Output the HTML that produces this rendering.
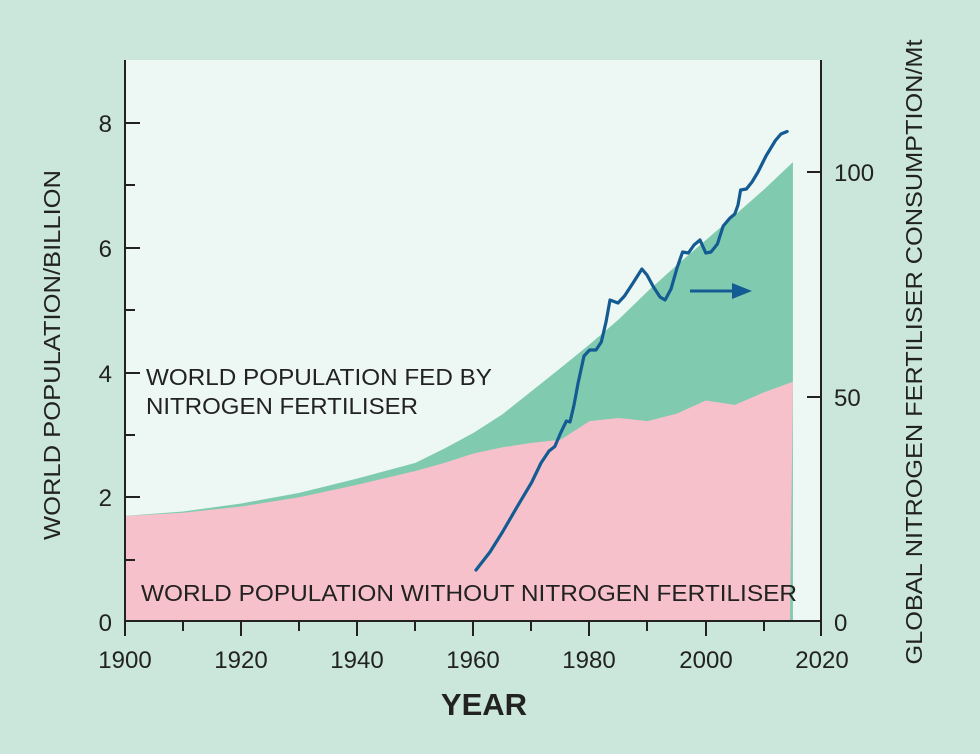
<!DOCTYPE html>
<html><head><meta charset="utf-8"><style>
body{margin:0;background:#cbe7dc;}
svg{display:block;font-family:"Liberation Sans",Arial,sans-serif;}
</style></head><body>
<svg width="980" height="754" viewBox="0 0 980 754" xmlns="http://www.w3.org/2000/svg">
<rect width="980" height="754" fill="#cbe7dc"/>
<rect x="125" y="60" width="696" height="562" fill="#edf7f3"/>
<g transform="translate(125,622) scale(5.808,-62.4)">
<polygon fill="#80cbb0" points="0,0 0,1.7 10,1.77 20,1.9 30,2.07 40,2.3 50,2.55 55,2.78 60,3.03 65,3.33 70,3.7 75,4.07 80,4.45 85,4.85 90,5.3 95,5.72 100,6.12 105,6.52 110,6.93 115,7.37 115,0"/>
<polygon fill="#f6c1ca" points="0,0 0,1.7 10,1.75 20,1.85 30,2.0 40,2.2 50,2.42 55,2.55 60,2.7 65,2.8 70,2.87 75,2.92 80,3.22 85,3.27 90,3.22 95,3.34 100,3.55 105,3.48 110,3.68 115,3.85 114.5,0"/>
</g>
<polyline fill="none" stroke="#135b92" stroke-width="3.2" stroke-linejoin="round" stroke-linecap="round" points="476,570 490,552 502.5,532 517,507 531.6,482.5 541,463 549,451 554.8,446.5 560.6,433 566.4,421 570,422 574,405 578,383.5 584,356 589.6,350 596,350 601.3,342 606,322 610,300 618,303 624.5,296 633,283 641.9,269 647,275 653.5,287 660,297 665.1,300 671,289 677,268 682.6,252 688.4,253 694,245 700,240 705.8,253 711,252 717.4,244 723.2,226 730,218 734.8,214 738,205 740.6,190 746.4,189 752,182 758,172 766,156 775.4,140.5 781,134 787.1,131.5"/>
<line x1="690" y1="291" x2="735" y2="291" stroke="#135b92" stroke-width="3"/>
<polygon points="752,291 732,283 732,299" fill="#135b92"/>
<g stroke="#222" stroke-width="2" fill="none">
<line x1="125" y1="60" x2="125" y2="622"/>
<line x1="821" y1="60" x2="821" y2="636"/>
<line x1="124" y1="621" x2="821" y2="621"/>
<line x1="125" y1="123" x2="140" y2="123"/><line x1="125" y1="185" x2="135" y2="185"/>
<line x1="125" y1="248" x2="140" y2="248"/><line x1="125" y1="310" x2="135" y2="310"/>
<line x1="125" y1="373" x2="140" y2="373"/><line x1="125" y1="435" x2="135" y2="435"/>
<line x1="125" y1="497" x2="140" y2="497"/><line x1="125" y1="560" x2="135" y2="560"/>
<line x1="807" y1="172" x2="821" y2="172"/><line x1="807" y1="397" x2="821" y2="397"/>
<line x1="125" y1="621" x2="125" y2="636"/><line x1="183" y1="621" x2="183" y2="631"/>
<line x1="241" y1="621" x2="241" y2="636"/><line x1="299" y1="621" x2="299" y2="631"/>
<line x1="357" y1="621" x2="357" y2="636"/><line x1="415" y1="621" x2="415" y2="631"/>
<line x1="473" y1="621" x2="473" y2="636"/><line x1="531" y1="621" x2="531" y2="631"/>
<line x1="589" y1="621" x2="589" y2="636"/><line x1="647" y1="621" x2="647" y2="631"/>
<line x1="706" y1="621" x2="706" y2="636"/><line x1="764" y1="621" x2="764" y2="631"/>
</g>
<g fill="#222" font-size="24">
<text x="112" y="132" text-anchor="end">8</text>
<text x="112" y="257" text-anchor="end">6</text>
<text x="112" y="382" text-anchor="end">4</text>
<text x="112" y="506" text-anchor="end">2</text>
<text x="112" y="631" text-anchor="end">0</text>
<text x="834" y="181">100</text>
<text x="834" y="406">50</text>
<text x="834" y="631">0</text>
<text x="125" y="668" text-anchor="middle">1900</text>
<text x="241" y="668" text-anchor="middle">1920</text>
<text x="357" y="668" text-anchor="middle">1940</text>
<text x="473" y="668" text-anchor="middle">1960</text>
<text x="589" y="668" text-anchor="middle">1980</text>
<text x="706" y="668" text-anchor="middle">2000</text>
<text x="822" y="668" text-anchor="middle">2020</text>
</g>
<g fill="#222" font-size="23">
<text x="146" y="385" textLength="346" lengthAdjust="spacingAndGlyphs">WORLD POPULATION FED BY</text>
<text x="146" y="414" textLength="272" lengthAdjust="spacingAndGlyphs">NITROGEN FERTILISER</text>
<text x="141" y="601" textLength="656" lengthAdjust="spacingAndGlyphs">WORLD POPULATION WITHOUT NITROGEN FERTILISER</text>
<text transform="translate(60,355) rotate(-90)" text-anchor="middle" textLength="370" lengthAdjust="spacingAndGlyphs">WORLD POPULATION/BILLION</text>
<text transform="translate(922,352) rotate(-90)" text-anchor="middle" textLength="625" lengthAdjust="spacingAndGlyphs">GLOBAL NITROGEN FERTILISER CONSUMPTION/Mt</text>
</g>
<text x="484" y="715" text-anchor="middle" font-size="31" font-weight="bold" fill="#222">YEAR</text>
</svg>
</body></html>
